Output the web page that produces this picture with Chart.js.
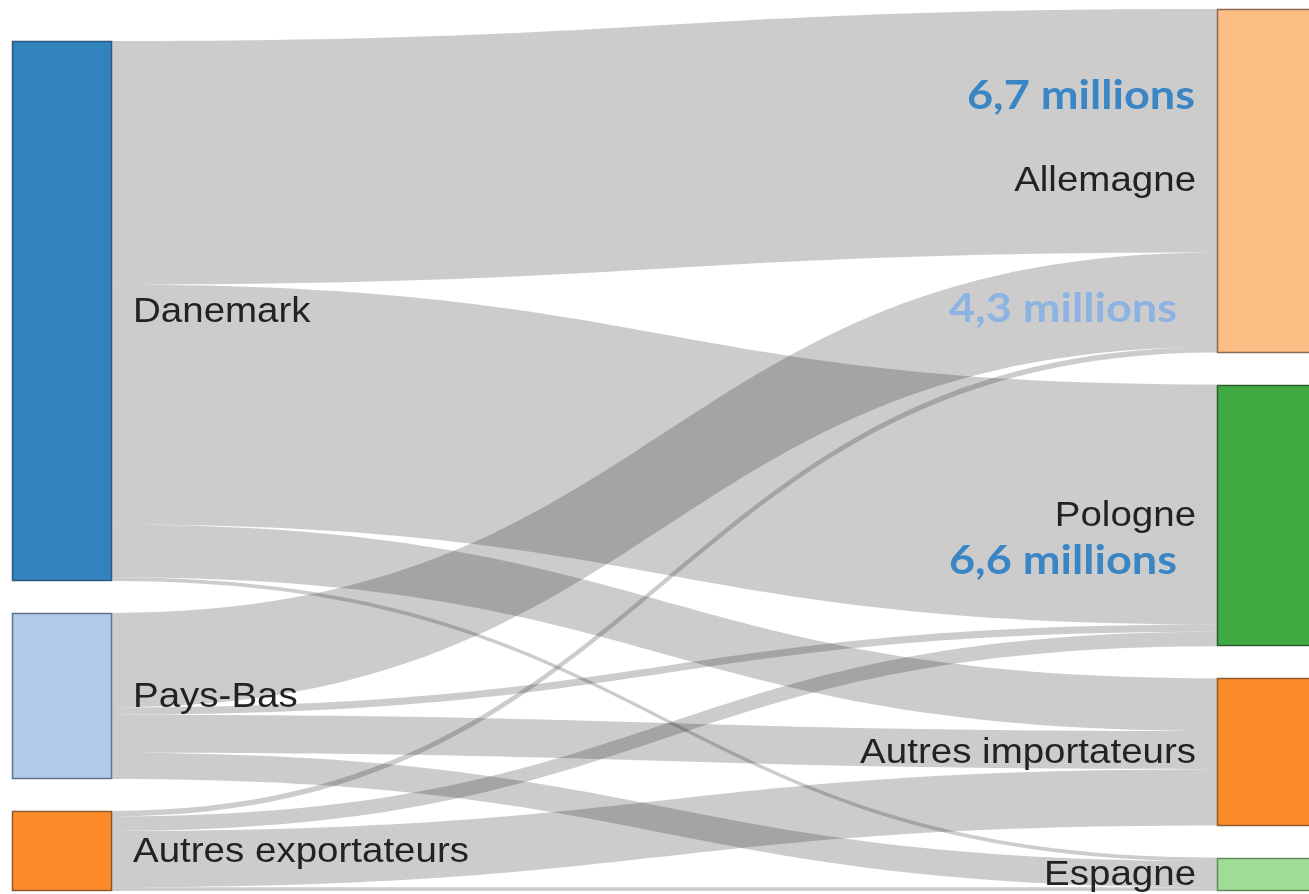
<!DOCTYPE html>
<html lang="fr">
<head>
<meta charset="utf-8">
<script src="https://cdn.jsdelivr.net/npm/chart.js@4.4.0/dist/chart.umd.min.js"></script>
<style>
  html, body { margin: 0; padding: 0; background: #fff; overflow: hidden; }
  #cadre { width: 1309px; height: 894px; }
</style>
</head>
<body>
<div id="cadre"><canvas id="graficoSankey"></canvas></div>
<script>
// exportateurs (colonne de gauche) et importateurs (colonne de droite)
const origens = ['Danemark', 'Pays-Bas', 'Autres exportateurs'];
const destinos = ['Allemagne', 'Pologne', 'Autres importateurs', 'Espagne'];

// flux en millions, un tableau par importateur, dans l'ordre des exportateurs
const versAllemagne = [6.7, 2.6, 0.15];
const versPologne = [6.6, 0.2, 0.4];
const versAutresImportateurs = [1.45, 1.05, 1.55];
const versEspagne = [0.1, 0.72, 0.1];

const fluxos = [versAllemagne, versPologne, versAutresImportateurs, versEspagne];

const coresOrigem = ['#3182bd', '#b1c9ea', '#fd8b2a'];
const bordasOrigem = ['#2b5a7e', '#60738d', '#8a5a2c'];
const coresDestino = ['#fdbe86', '#40aa42', '#fd8b2a', '#a0dc96'];
const bordasDestino = ['#8a6a52', '#2d5c2e', '#8a5a2c', '#5f8a5a'];

const espaco = 0.88; // écart entre les noeuds, en millions

const totaisOrigem = origens.map((_, i) => fluxos.reduce((s, f) => s + f[i], 0));
const totaisDestino = fluxos.map(f => f.reduce((s, v) => s + v, 0));
const alturaEsq = totaisOrigem.reduce((s, v) => s + v, 0) + espaco * (origens.length - 1);
const alturaDir = totaisDestino.reduce((s, v) => s + v, 0) + espaco * (destinos.length - 1);
const alturaTotal = Math.max(alturaEsq, alturaDir);

function posicoes(totais, altura) {
  let y = alturaTotal - altura; // colonnes alignées en bas
  return totais.map(t => {
    const p = { inicio: y, fim: y + t };
    y += t + espaco;
    return p;
  });
}

function escreveTexto(ctx, texto, x, y, alinhamento, fonte, cor, escalaX) {
  ctx.save();
  ctx.translate(x, y);
  ctx.scale(escalaX, 1);
  ctx.font = fonte;
  ctx.fillStyle = cor;
  ctx.textAlign = alinhamento;
  ctx.textBaseline = 'middle';
  ctx.fillText(texto, 0, 0);
  ctx.restore();
}

const pluginSankey = {
  id: 'sankey',
  afterDatasetsDraw(chart, args, opts) {
    const ctx = chart.ctx;
    const x = chart.scales.x;
    const y = chart.scales.y;
    const largura = opts.larguraNo;

    const nosEsq = posicoes(totaisOrigem, alturaEsq);
    const nosDir = posicoes(totaisDestino, alturaDir);

    const xa = x.getPixelForValue(0) + largura;
    const xb = x.getPixelForValue(1);
    const xm = (xa + xb) / 2;

    // liens
    ctx.save();
    ctx.fillStyle = 'rgba(0,0,0,0.2)';
    origens.forEach((_, i) => {
      destinos.forEach((_, j) => {
        const v = fluxos[j][i];
        if (!v) return;
        let s0 = nosEsq[i].inicio;
        for (let k = 0; k < j; k++) s0 += fluxos[k][i];
        let t0 = nosDir[j].inicio;
        for (let k = 0; k < i; k++) t0 += fluxos[j][k];
        const ys0 = y.getPixelForValue(s0), ys1 = y.getPixelForValue(s0 + v);
        const yt0 = y.getPixelForValue(t0), yt1 = y.getPixelForValue(t0 + v);
        ctx.beginPath();
        ctx.moveTo(xa, ys0);
        ctx.bezierCurveTo(xm, ys0, xm, yt0, xb, yt0);
        ctx.lineTo(xb, yt1);
        ctx.bezierCurveTo(xm, yt1, xm, ys1, xa, ys1);
        ctx.closePath();
        ctx.fill();
      });
    });
    ctx.restore();

    // noeuds
    function desenhaNo(px, p, cor, borda) {
      const y0 = Math.round(y.getPixelForValue(p.inicio));
      const y1 = Math.round(y.getPixelForValue(p.fim));
      const x0 = Math.round(px);
      ctx.fillStyle = cor;
      ctx.fillRect(x0, y0, largura, y1 - y0);
      ctx.strokeStyle = borda;
      ctx.lineWidth = 1.5;
      ctx.strokeRect(x0 + 0.5, y0 + 0.5, largura - 1, y1 - y0 - 1);
    }
    nosEsq.forEach((p, i) => desenhaNo(x.getPixelForValue(0), p, coresOrigem[i], bordasOrigem[i]));
    nosDir.forEach((p, j) => desenhaNo(x.getPixelForValue(1), p, coresDestino[j], bordasDestino[j]));

    // étiquettes
    const fonte = opts.tamanhoFonte + 'px "Liberation Sans", Arial, sans-serif';
    nosEsq.forEach((p, i) => {
      const cy = y.getPixelForValue((p.inicio + p.fim) / 2);
      escreveTexto(ctx, origens[i], xa + opts.recuoTexto, cy + 1, 'left', fonte, '#222', opts.escalaX);
    });
    nosDir.forEach((p, j) => {
      const cy = y.getPixelForValue((p.inicio + p.fim) / 2);
      escreveTexto(ctx, destinos[j], xb - opts.recuoTexto, cy + 1, 'right', fonte, '#222', opts.escalaX);
    });

    // annotations
    opts.anotacoes.forEach(a => {
      escreveTexto(ctx, a.texto, xb - a.recuo, y.getPixelForValue(a.y), 'right',
        'bold 41px Lato, "Open Sans", sans-serif', a.cor, opts.escalaX);
    });
  }
};

const graficoSankey = new Chart(document.getElementById('graficoSankey'), {
  type: 'scatter',
  data: { datasets: [{ data: [], pointRadius: 0 }] },
  options: {
    responsive: true,
    maintainAspectRatio: false,
    animation: false,
    layout: { padding: { left: 12, top: 9, right: 0, bottom: 3 } },
    scales: {
      x: { type: 'linear', min: 0, max: 1.0763, display: false },
      y: { type: 'linear', min: 0, max: alturaTotal, reverse: true, display: false }
    },
    plugins: {
      legend: { display: false },
      tooltip: { enabled: false },
      sankey: {
        larguraNo: 100,
        tamanhoFonte: 35,
        recuoTexto: 21,
        escalaX: 1.1,
        anotacoes: [
          { texto: '6,7 millions', y: 2.4, recuo: 22, cor: '#3a86c4' },
          { texto: '4,3 millions', y: 8.24, recuo: 40, cor: '#8db3e2' },
          { texto: '6,6 millions', y: 15.18, recuo: 40, cor: '#3a86c4' }
        ]
      }
    }
  },
  plugins: [pluginSankey]
});
</script>
</body>
</html>
